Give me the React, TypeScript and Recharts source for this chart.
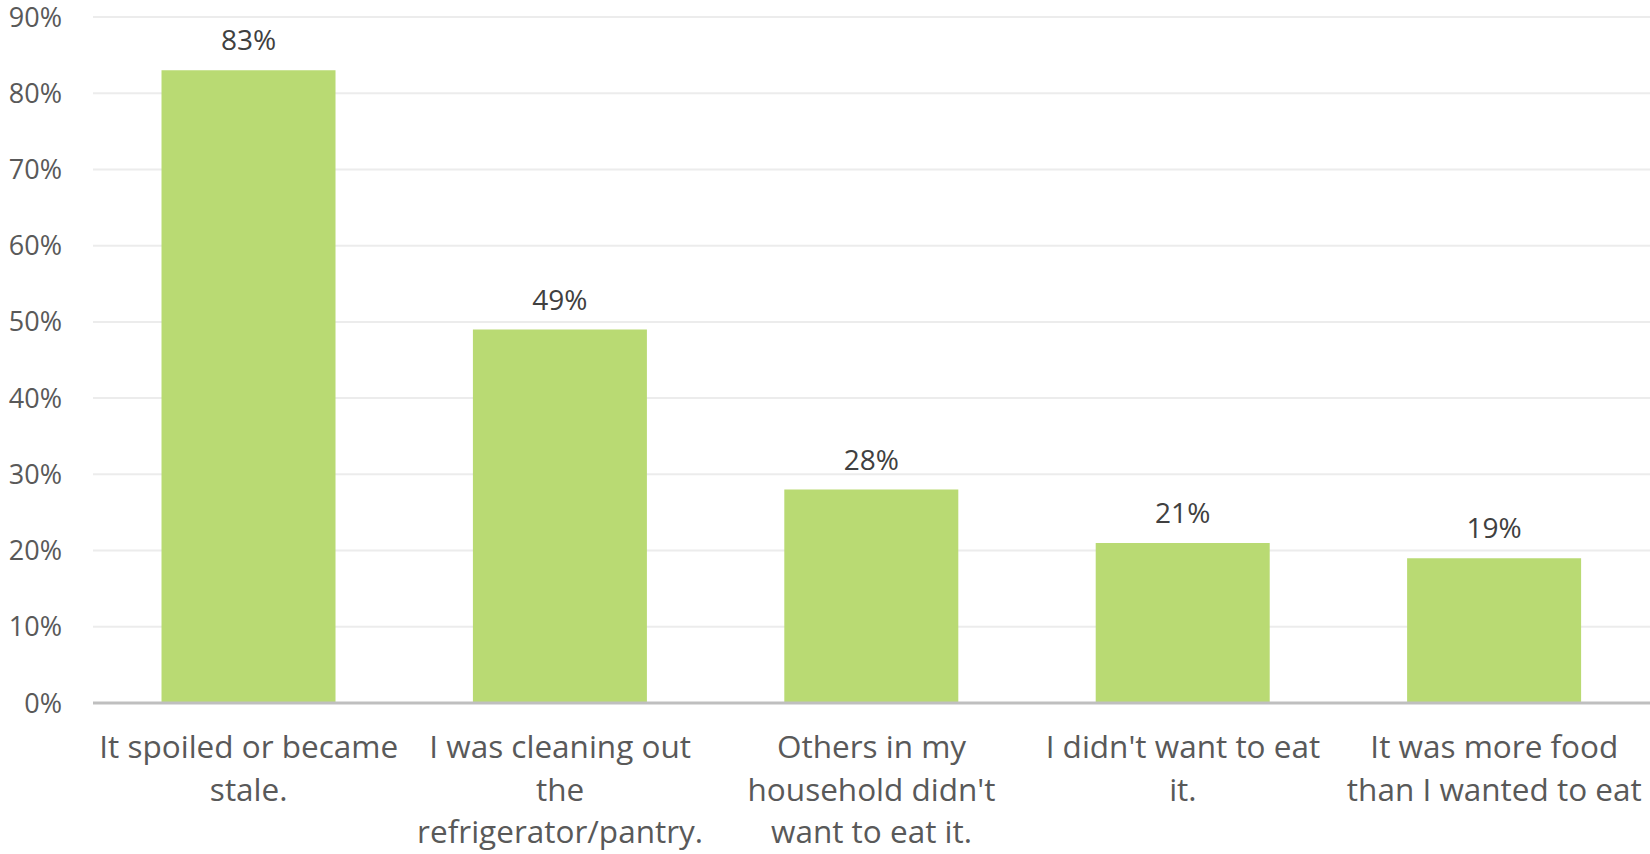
import React from "react";
import { BarChart, Bar, XAxis, YAxis, CartesianGrid, LabelList } from "recharts";

const categories: string[] = [
  "It spoiled or became\nstale.",
  "I was cleaning out\nthe\nrefrigerator/pantry.",
  "Others in my\nhousehold didn't\nwant to eat it.",
  "I didn't want to eat\nit.",
  "It was more food\nthan I wanted to eat",
];
const values: number[] = [0.83, 0.49, 0.28, 0.21, 0.19];
const yTicks: number[] = [0, 0.1, 0.2, 0.3, 0.4, 0.5, 0.6, 0.7, 0.8, 0.9];

const data = categories.map((c, i) => ({ name: c, value: values[i] }));

const FONT = "'Open Sans', sans-serif";
const pct = (v: number) => `${Math.round(v * 100)}%`;

const CategoryTick = (props: any) => {
  const { x, y, payload } = props;
  const lines = String(payload.value).split("\n");
  return (
    <g transform={`translate(${x},${y})`}>
      <text
        textAnchor="middle"
        fill="#595959"
        fontSize={31.5}
        fontFamily={FONT}
      >
        {lines.map((l, i) => (
          <tspan key={i} x={0} y={47 + i * 42.7}>
            {l}
          </tspan>
        ))}
      </text>
    </g>
  );
};

export default function App() {
  return (
    <div style={{ position: "absolute", left: 0, top: 0, background: "#fff" }}>
      <BarChart
        width={1650}
        height={854}
        data={data}
        margin={{ top: 17, right: 0, bottom: 0, left: 0 }}
        barCategoryGap="22%"
      >
        <CartesianGrid vertical={false} stroke="#ececec" strokeWidth={2} />
        <XAxis
          dataKey="name"
          interval={0}
          height={151}
          tickLine={false}
          axisLine={{ stroke: "#bfbfbf", strokeWidth: 3 }}
          tick={<CategoryTick />}
        />
        <YAxis
          width={93}
          domain={[0, 0.9]}
          ticks={yTicks}
          tickFormatter={pct}
          axisLine={false}
          tickLine={false}
          tickMargin={25}
          tick={{ fill: "#595959", fontSize: 27, fontFamily: FONT }}
        />
        <Bar dataKey="value" fill="#b9da73" isAnimationActive={false}>
          <LabelList
            dataKey="value"
            position="top"
            offset={20}
            formatter={(v: any) => pct(Number(v))}
            fill="#404040"
            fontSize={28}
            fontFamily={FONT}
          />
        </Bar>
      </BarChart>
    </div>
  );
}
